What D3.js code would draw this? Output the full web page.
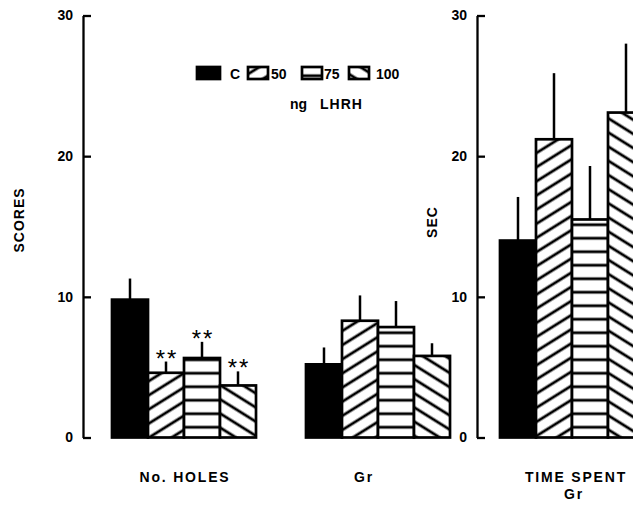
<!DOCTYPE html>
<html>
<head>
<meta charset="utf-8">
<script src="https://d3js.org/d3.v7.min.js"></script>
<style>
  body { margin: 0; background: #fff; }
  text { font-family: "Liberation Sans", Arial, sans-serif; font-weight: bold; fill: #000; }
</style>
</head>
<body>
<script>
// data
var groups = ["No. HOLES", "Gr", "TIME SPENT"];
var doses = ["C", "50", "75", "100"];
var holesMean = [9.8, 4.6, 5.65, 3.7];
var holesSem = [1.5, 0.8, 1.15, 1.0];
var holesSig = ["", "**", "**", "**"];
var grMean = [5.2, 8.3, 7.85, 5.8];
var grSem = [1.2, 1.8, 1.85, 0.9];
var timeMean = [14.0, 21.2, 15.5, 23.1];
var timeSem = [3.1, 4.7, 3.8, 4.9];
var yTicks = [0, 10, 20, 30];

var width = 633, height = 509;

var svg = d3.select("body").append("svg")
  .attr("width", width)
  .attr("height", height);

// hatch patterns
var defs = svg.append("defs");
function hatch(id, angle, step, oy) {
  var p = defs.append("pattern")
    .attr("id", id)
    .attr("patternUnits", "userSpaceOnUse")
    .attr("width", step).attr("height", step)
    .attr("y", oy)
    .attr("patternTransform", "rotate(" + angle + ")");
  p.append("rect").attr("width", step).attr("height", step).attr("fill", "#fff");
  p.append("line")
    .attr("x1", 0).attr("x2", step)
    .attr("y1", step / 2).attr("y2", step / 2)
    .attr("stroke", "#000").attr("stroke-width", 2.8);
}
hatch("h50", -32, 12, 0);
hatch("h75", 0, 13.5, 2);
hatch("h100", 32, 12, 0);

var fill = d3.scaleOrdinal()
  .domain(doses)
  .range(["#000", "url(#h50)", "url(#h75)", "url(#h100)"]);

var y = d3.scaleLinear().domain([0, 30]).range([437.5, 15.5]);

var x0 = d3.scaleBand()
  .domain(groups)
  .range([112, 644])
  .paddingInner(0.2577)
  .paddingOuter(0)
  .align(0);

var x1 = d3.scaleBand()
  .domain(doses)
  .range([0, x0.bandwidth()]);

var table = [
  { g: groups[0], mean: holesMean, sem: holesSem, sig: holesSig },
  { g: groups[1], mean: grMean, sem: grSem, sig: ["", "", "", ""] },
  { g: groups[2], mean: timeMean, sem: timeSem, sig: ["", "", "", ""] }
];

var rows = [];
table.forEach(function(t) {
  doses.forEach(function(d, i) {
    rows.push({ g: t.g, dose: d, mean: t.mean[i], sem: t.sem[i], sig: t.sig[i] });
  });
});

// error bars first so bar outline sits on them
svg.selectAll(".err")
  .data(rows)
  .enter().append("line")
  .attr("class", "err")
  .attr("x1", function(d) { return x0(d.g) + x1(d.dose) + x1.bandwidth() / 2; })
  .attr("x2", function(d) { return x0(d.g) + x1(d.dose) + x1.bandwidth() / 2; })
  .attr("y1", function(d) { return y(d.mean); })
  .attr("y2", function(d) { return y(d.mean + d.sem); })
  .attr("stroke", "#000")
  .attr("stroke-width", 2.5);

svg.selectAll(".bar")
  .data(rows)
  .enter().append("rect")
  .attr("class", "bar")
  .attr("x", function(d) { return x0(d.g) + x1(d.dose); })
  .attr("width", x1.bandwidth())
  .attr("y", function(d) { return y(d.mean); })
  .attr("height", function(d) { return y(0) - y(d.mean); })
  .attr("fill", function(d) { return fill(d.dose); })
  .attr("stroke", "#000")
  .attr("stroke-width", 2.7);

// significance stars
svg.selectAll(".sig")
  .data(rows.filter(function(d) { return d.sig; }))
  .enter().append("text")
  .attr("class", "sig")
  .attr("x", function(d) { return x0(d.g) + x1(d.dose) + x1.bandwidth() / 2 + 1; })
  .attr("y", function(d) { return y(d.mean + d.sem) + 5; })
  .attr("text-anchor", "middle")
  .style("font-size", "24px")
  .style("font-weight", "normal")
  .style("letter-spacing", "2px")
  .text(function(d) { return d.sig; });

// axes
function drawAxis(xpos) {
  var g = svg.append("g")
    .attr("transform", "translate(" + xpos + ",0)")
    .call(d3.axisLeft(y).tickValues(yTicks).tickSizeInner(-8).tickSizeOuter(0).tickPadding(10));
  g.select(".domain").attr("stroke-width", 2.3);
  g.selectAll(".tick line").attr("stroke-width", 2.3);
  g.selectAll(".tick text")
    .style("font-size", "14px")
    .style("font-family", "'Liberation Sans', Arial, sans-serif")
    .style("font-weight", "bold");
  return g;
}
drawAxis(83);
drawAxis(477);

svg.append("text")
  .attr("transform", "translate(24,220) rotate(-90)")
  .attr("text-anchor", "middle")
  .style("font-size", "14px")
  .style("letter-spacing", "1px")
  .text("SCORES");

svg.append("text")
  .attr("transform", "translate(437,222) rotate(-90)")
  .attr("text-anchor", "middle")
  .style("font-size", "14px")
  .style("letter-spacing", "1px")
  .text("SEC");

// group labels
var labelShift = [1, -14, 4];
svg.selectAll(".glabel")
  .data(groups)
  .enter().append("text")
  .attr("class", "glabel")
  .attr("x", function(d, i) { return x0(d) + x0.bandwidth() / 2 + labelShift[i]; })
  .attr("y", 482)
  .attr("text-anchor", "middle")
  .style("font-size", "14px")
  .style("letter-spacing", "1.8px")
  .text(function(d) { return d; });

svg.append("text")
  .attr("x", x0(groups[2]) + x0.bandwidth() / 2 + 2)
  .attr("y", 499)
  .attr("text-anchor", "middle")
  .style("font-size", "14px")
  .style("letter-spacing", "1.8px")
  .text("Gr");

// legend
var legX = [197, 248, 302, 349];
var legText = [33, 23, 22, 27];
var leg = svg.selectAll(".legend")
  .data(doses)
  .enter().append("g")
  .attr("class", "legend")
  .attr("transform", function(d, i) { return "translate(" + legX[i] + ",67)"; });

leg.append("rect")
  .attr("width", function(d, i) { return i == 0 ? 23 : 20; })
  .attr("height", 12)
  .attr("fill", fill)
  .attr("stroke", "#000")
  .attr("stroke-width", 2.7);

leg.append("text")
  .attr("x", function(d, i) { return legText[i]; })
  .attr("y", 12)
  .style("font-size", "14px")
  .text(function(d) { return d; });

svg.append("text")
  .attr("x", 290).attr("y", 109)
  .style("font-size", "14px")
  .text("ng");
svg.append("text")
  .attr("x", 320).attr("y", 109)
  .style("font-size", "14px")
  .style("letter-spacing", "1px")
  .text("LHRH");
</script>
</body>
</html>
